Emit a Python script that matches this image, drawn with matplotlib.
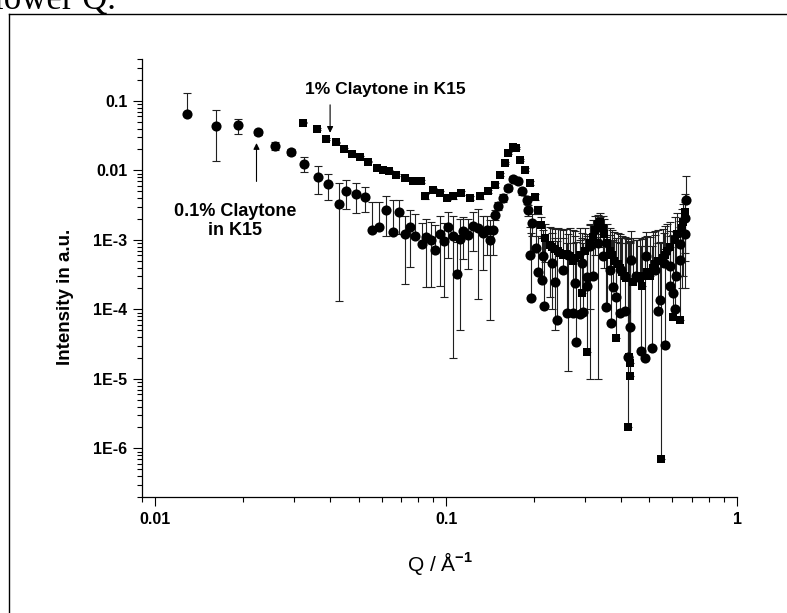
import matplotlib
matplotlib.use('Agg')
import matplotlib.pyplot as plt
import numpy as np
from matplotlib.ticker import LogLocator, NullFormatter
from matplotlib.lines import Line2D

# ---------------- data ----------------
# 0.1% Claytone in K15 (circles)
q_low = [0.01288, 0.01622, 0.0193, 0.02263, 0.02588, 0.02939, 0.03258, 0.0362, 0.0392, 0.0427,
         0.0454, 0.0488, 0.0524, 0.0556, 0.0587, 0.0622, 0.0655, 0.0686, 0.0720, 0.0752,
         0.0781, 0.0824, 0.0855, 0.0888, 0.0913, 0.0950, 0.0980, 0.1012, 0.1053, 0.1087,
         0.1113, 0.1140, 0.1186, 0.1234, 0.1283, 0.1336, 0.1377, 0.1412, 0.1446, 0.1469,
         0.1503, 0.1565, 0.1628, 0.1694, 0.1763, 0.1820, 0.1893, 0.1908, 0.1969, 0.1939,
         0.1960, 0.2044, 0.2065, 0.2132, 0.2166, 0.2160, 0.2306, 0.2363, 0.2399, 0.2518,
         0.2600, 0.2620, 0.2768, 0.2726, 0.2791, 0.2882, 0.2928, 0.2950, 0.3046, 0.3050,
         0.3119, 0.3194, 0.3323, 0.3376, 0.3457, 0.3540, 0.3653, 0.3700, 0.3740, 0.3850,
         0.3954, 0.4000, 0.4117, 0.4220, 0.4283, 0.4330, 0.4500, 0.4680, 0.4820, 0.4870,
         0.5120, 0.5220, 0.5370, 0.5430, 0.5590, 0.5650, 0.5875, 0.5900, 0.6040, 0.6120,
         0.6190, 0.6366, 0.6380, 0.6622, 0.6650, 0.6670]
i_low = [0.0650, 0.0438, 0.0447, 0.0355, 0.0226, 0.0184, 0.01245, 0.00802, 0.00635, 0.00331,
         0.00498, 0.00457, 0.00413, 0.00137, 0.00155, 0.00272, 0.00130, 0.00250, 0.00123, 0.00155,
         0.00112, 0.00086, 0.00111, 0.00101, 0.00072, 0.00123, 0.00095, 0.00155, 0.00112, 0.00032,
         0.00104, 0.00133, 0.00118, 0.00160, 0.00148, 0.00127, 0.00140, 0.00101, 0.00140, 0.00230,
         0.00305, 0.00400, 0.00560, 0.00757, 0.00700, 0.00498, 0.00378, 0.00272, 0.00175, 0.00061,
         0.000146, 0.00076, 0.00034, 0.000268, 0.000113, 0.00058, 0.00047, 0.00025, 0.000071, 0.000373,
         0.000090, 0.000613, 0.00024, 0.000090, 0.0000337, 0.000085, 0.00047, 0.000093, 0.000297, 0.00022,
         0.00081, 0.00030, 0.00091, 0.00155, 0.00058, 0.000109, 0.000373, 0.000064, 0.00021, 0.00015,
         0.000090, 0.000373, 0.000094, 0.000021, 0.000055, 0.00052, 0.00030, 0.000025, 0.000020, 0.00058,
         0.000028, 0.000373, 0.000094, 0.000135, 0.00047, 0.000031, 0.00042, 0.00022, 0.00017, 0.00010,
         0.00030, 0.00086, 0.00052, 0.00120, 0.00205, 0.00378]
e_low = [0.0665, 0.0300, 0.0110, 0.0030, 0.0028, 0.0020, 0.0030, 0.0034, 0.0026, 0.00318,
         0.0022, 0.0021, 0.00165, 0.0021, 0.0019, 0.0016, 0.0025, 0.0013, 0.0010, 0.00114,
         0.0012, 0.0009, 0.0009, 0.0008, 0.0009, 0.00101, 0.0008, 0.0010, 0.00110, 0.0006,
         0.00099, 0.0008, 0.0008, 0.0009, 0.00134, 0.0009, 0.0008, 0.00094, 0.0008, 0.0004,
         0.0004, 0.0005, 0.0006, 0.0006, 0.0006, 0.0005, 0.0005, 0.0005, 0.0006, 0.0009,
         0.0011, 0.0009, 0.0008, 0.0008, 0.0010, 0.0008, 0.0008, 0.0008, 0.0009, 0.0007,
         0.0008, 0.0006, 0.0009, 0.0008, 0.0009, 0.0009, 0.0008, 0.0008, 0.0009, 0.0008,
         0.0008, 0.0009, 0.0009, 0.0006, 0.0009, 0.0010, 0.0008, 0.0009, 0.0008, 0.0009,
         0.0008, 0.0007, 0.0008, 0.0010, 0.0009, 0.0008, 0.0007, 0.0008, 0.0008, 0.0007,
         0.0008, 0.0008, 0.0008, 0.0008, 0.0008, 0.0007, 0.0009, 0.0009, 0.0010, 0.0010,
         0.0010, 0.0010, 0.0010, 0.0010, 0.0014, 0.0045]

# 1% Claytone in K15 (squares)
q_high = [0.0321, 0.0359, 0.0385, 0.0419, 0.0447, 0.0475, 0.0504, 0.0538, 0.0577, 0.0605,
          0.0634, 0.0673, 0.0720, 0.0767, 0.0820, 0.0843, 0.0898, 0.0950, 0.1004, 0.1053,
          0.1123, 0.1205, 0.1303, 0.1389, 0.1469, 0.1528, 0.1589, 0.1628, 0.1694, 0.1740,
          0.1791, 0.1863, 0.1939, 0.2018, 0.2065, 0.2115, 0.2183, 0.2270,
          0.2306, 0.2363, 0.2420, 0.2458, 0.2518, 0.2580, 0.2661, 0.2726, 0.2768, 0.2882,
          0.2928, 0.2999, 0.3046, 0.3119, 0.3194, 0.3245, 0.3323, 0.3376, 0.3457, 0.3500,
          0.3567, 0.3653, 0.3712, 0.3771, 0.3832, 0.3900, 0.3954, 0.4018, 0.4117, 0.4160,
          0.4216, 0.4250, 0.4283, 0.4300, 0.4385, 0.4527, 0.4636, 0.4711, 0.4820, 0.4898,
          0.5017, 0.5137, 0.5222, 0.5345, 0.5472, 0.5558, 0.5649, 0.5741, 0.5875, 0.6022,
          0.6118, 0.6216, 0.6366, 0.6450, 0.6517, 0.6622]
i_high = [0.0488, 0.0393, 0.0282, 0.0252, 0.0202, 0.0173, 0.0155, 0.0134, 0.0108, 0.0102,
          0.00966, 0.00865, 0.00776, 0.00694, 0.00694, 0.00422, 0.00526, 0.00472, 0.00400, 0.00422,
          0.00472, 0.00400, 0.00422, 0.00498, 0.00620, 0.00865, 0.0128, 0.0177, 0.0220, 0.0211,
          0.0142, 0.0102, 0.00664, 0.00418, 0.00272, 0.00165, 0.00108, 0.00085,
          0.00080, 0.00075, 0.00070, 0.00065, 0.00060, 0.00062, 0.00058, 0.00050, 0.00055, 0.00060,
          0.00017, 0.00070, 0.0000243, 0.00090, 0.00110, 0.00140, 0.00170, 0.00180, 0.00150, 0.00120,
          0.00090, 0.00070, 0.00060, 0.00050, 0.000039, 0.00045, 0.00040, 0.00035, 0.00030, 0.00028,
          0.0000020, 0.000021, 0.000017, 0.000011, 0.00025, 0.00030, 0.00028, 0.00022, 0.00030, 0.00035,
          0.00030, 0.00040, 0.00045, 0.00050, 0.00000070, 0.00055, 0.00060, 0.00070, 0.00080, 0.000079,
          0.00100, 0.00120, 0.000070, 0.00150, 0.00180, 0.00250]
e_high = [0.0010, 0.0010, 0.0008, 0.0007, 0.0006, 0.0005, 0.0005, 0.0004, 0.0004, 0.0004,
          0.0003, 0.0003, 0.0003, 0.0003, 0.0003, 0.0003, 0.0003, 0.0003, 0.0003, 0.0003,
          0.0003, 0.0003, 0.0003, 0.0003, 0.0004, 0.0004, 0.0005, 0.0006, 0.0007, 0.0007,
          0.0006, 0.0005, 0.0004, 0.0004, 0.0004, 0.0005, 0.0006, 0.0007,
          0.0007, 0.0007, 0.0008, 0.0008, 0.0008, 0.0008, 0.0009, 0.0009, 0.0008, 0.0009,
          0.0009, 0.0008, 0.0011, 0.0008, 0.0008, 0.0008, 0.0006, 0.0006, 0.0007, 0.0008,
          0.0008, 0.0008, 0.0008, 0.0008, 0.0009, 0.0008, 0.0008, 0.0008, 0.0008, 0.0008,
          0.0009, 0.0009, 0.0009, 0.0009, 0.0008, 0.0007, 0.0008, 0.0008, 0.0008, 0.0008,
          0.0008, 0.0009, 0.0009, 0.0009, 0.0009, 0.0009, 0.0010, 0.0010, 0.0010, 0.0011,
          0.0011, 0.0012, 0.0012, 0.0013, 0.0015, 0.0020]

x_ticks = [0.01, 0.1, 1]
x_tick_labels = ['0.01', '0.1', '1']
y_ticks = [1e-6, 1e-5, 1e-4, 1e-3, 1e-2, 1e-1]
y_tick_labels = ['1E-6', '1E-5', '1E-4', '1E-3', '0.01', '0.1']

# ---------------- style ----------------
plt.rcParams['font.family'] = ['Liberation Sans', 'DejaVu Sans']
plt.rcParams['mathtext.fontset'] = 'custom'
plt.rcParams['mathtext.rm'] = 'Liberation Sans'
plt.rcParams['mathtext.bf'] = 'Liberation Sans:bold'

W, H = 787, 613
fig = plt.figure(figsize=(W / 100, H / 100), dpi=100)
ax = fig.add_axes([142 / W, 1 - 497 / H, (737 - 142) / W, (497 - 59) / H])


def draw(q, i, e, marker, ms):
    q = np.asarray(q)
    i = np.asarray(i)
    e = np.asarray(e)
    lower = np.where(e < i, e, 0.0)
    ax.errorbar(q, i, yerr=[lower, e], fmt='none', ecolor='#202020',
                elinewidth=0.8, capsize=3.2, capthick=0.8, zorder=2)
    ax.plot(q, i, linestyle='none', marker=marker, ms=ms, color='black',
            markeredgewidth=0, zorder=3)


draw(q_low, i_low, e_low, 'o', 7.3)
draw(q_high, i_high, e_high, 's', 6.0)

ax.set_xscale('log')
ax.set_yscale('log')
ax.set_xlim(0.009, 1)
ax.set_ylim(2e-7, 0.4)

for s in ['top', 'right']:
    ax.spines[s].set_visible(False)
for s in ['left', 'bottom']:
    ax.spines[s].set_linewidth(0.9)

ax.set_xticks(x_ticks, x_tick_labels, fontsize=11.5, fontweight='bold')
ax.set_yticks(y_ticks, y_tick_labels, fontsize=11.5, fontweight='bold')
ax.xaxis.set_minor_locator(LogLocator(base=10, subs=np.arange(2, 10), numticks=20))
ax.yaxis.set_minor_locator(LogLocator(base=10, subs=np.arange(2, 10), numticks=20))
ax.xaxis.set_minor_formatter(NullFormatter())
ax.yaxis.set_minor_formatter(NullFormatter())
ax.tick_params(which='major', direction='out', length=6.5, width=0.8, pad=4)
ax.tick_params(which='minor', direction='out', length=3.6, width=0.8)

ax.set_xlabel('Q / Å$^{\\mathbf{-1}}$', fontsize=15, va='center')
ax.xaxis.set_label_coords(0.5, -0.151)
ax.set_ylabel('Intensity in a.u.', fontsize=13.5, fontweight='bold', va='center')
ax.yaxis.set_label_coords(-0.129, 0.458)

# annotations
arrow = dict(arrowstyle='-|>', color='black', lw=0.8, mutation_scale=9,
             shrinkA=0, shrinkB=0)
ax.annotate('', xy=(0.0399, 0.0347), xytext=(0.0399, 0.0876), arrowprops=arrow)
ax.text(0.0326, 0.144, '1% Claytone in K15', fontsize=12.5, fontweight='bold',
        ha='left', va='center')
ax.annotate('', xy=(0.02228, 0.0247), xytext=(0.02228, 0.00693), arrowprops=arrow)
ax.text(0.01885, 0.00189, '0.1% Claytone\nin K15', fontsize=13, fontweight='bold',
        ha='center', va='center', multialignment='center', linespacing=1.15)

# page frame and clipped document text
fig.add_artist(Line2D([9 / W, 9 / W], [1 - 14 / H, 0], color='black', lw=1.0,
                      transform=fig.transFigure))
fig.add_artist(Line2D([9 / W, 1], [1 - 14 / H, 1 - 14 / H], color='black', lw=1.0,
                      transform=fig.transFigure))
fig.text(-6 / W, 1 - 9 / H, 'lower Q.', family='Liberation Serif', fontsize=25,
         ha='left', va='baseline')

fig.savefig('out.png', dpi=100)
